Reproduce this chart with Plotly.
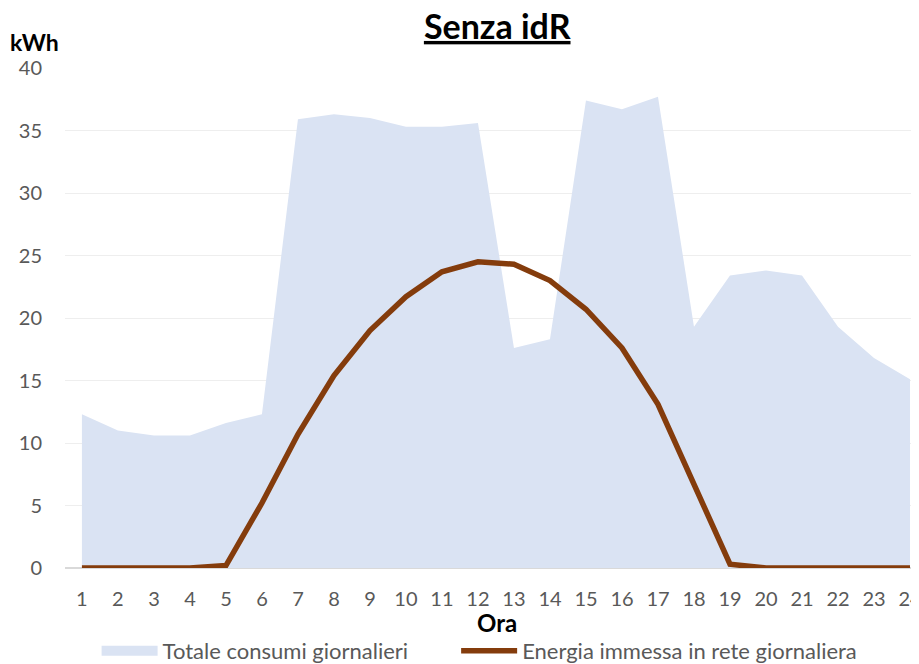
import plotly.graph_objects as go

ore = list(range(1, 25))
consumi = [12.3, 11.0, 10.6, 10.6, 11.6, 12.3, 35.9, 36.3, 36.0, 35.3, 35.3, 35.6,
           17.6, 18.3, 37.4, 36.7, 37.7, 19.3, 23.4, 23.8, 23.4, 19.3, 16.8, 15.1]
immessa = [0, 0, 0, 0, 0.2, 5.2, 10.7, 15.4, 19.0, 21.7, 23.7, 24.5,
           24.3, 23.0, 20.7, 17.6, 13.1, 6.7, 0.3, 0, 0, 0, 0, 0]
y_ticks = [0, 5, 10, 15, 20, 25, 30, 35, 40]

AREA = "#DAE3F3"
LINE = "#843C0C"
FONT = "Lato"
fig = go.Figure()
fig.add_trace(go.Scatter(
    x=ore, y=consumi, name="Totale consumi giornalieri",
    mode="lines", fill="tozeroy", fillcolor=AREA,
    line=dict(color=AREA, width=0), showlegend=False))
# legend entry for the area (wide swatch)
fig.add_trace(go.Scatter(
    x=[None], y=[None], name="Totale consumi giornalieri",
    mode="lines", line=dict(color=AREA, width=14), legend="legend"))
fig.add_trace(go.Scatter(
    x=ore, y=immessa, name="Energia immessa in rete giornaliera",
    mode="lines", line=dict(color=LINE, width=5.5), legend="legend2"))

leg_common = dict(orientation="h", yanchor="middle", y=-0.166, xanchor="left",
                  font=dict(family=FONT, size=22, color="#595959"),
                  itemwidth=56, bgcolor="rgba(0,0,0,0)")

# page body adds an 8px offset; figure sized to fill the rest of the window
fig.update_layout(
    width=911, height=656,
    margin=dict(l=57, r=0, t=60, b=96, autoexpand=False),
    plot_bgcolor="white", paper_bgcolor="white",
    font=dict(family=FONT, size=20, color="#595959"),
    title=dict(text="<b><u>Senza idR</u></b>", x=0.537, xanchor="center",
               y=0.971, yanchor="middle",
               font=dict(family=FONT, size=34, color="black")),
    showlegend=True,
    legend=dict(x=0.037, **leg_common),
    legend2=dict(x=0.458, **leg_common),
    xaxis=dict(range=[0.53, 24.25], tickmode="array", tickvals=ore,
               ticktext=[str(v) for v in ore], showgrid=False, zeroline=False,
               showline=False, ticks="", ticklabelstandoff=17,
               ticklabeloverflow="allow",
               tickfont=dict(size=20, color="#595959")),
    yaxis=dict(range=[0, 40], tickmode="array", tickvals=y_ticks,
               showgrid=True, gridcolor="#EEEEEE", gridwidth=1.3,
               zeroline=True, zerolinecolor="#D9D9D9", zerolinewidth=2,
               showline=False, ticks="", ticklabelstandoff=22,
               tickfont=dict(size=20, color="#595959")),
    annotations=[
        dict(text="<b>kWh</b>", xref="paper", yref="paper", x=-0.067, y=1.052,
             xanchor="left", yanchor="middle", showarrow=False,
             font=dict(family=FONT, size=23, color="black")),
        dict(text="<b>Ora</b>", xref="paper", yref="paper", x=0.506, y=-0.108,
             xanchor="center", yanchor="middle", showarrow=False,
             font=dict(family=FONT, size=24, color="black")),
    ],
)
fig.write_html("out.html")
